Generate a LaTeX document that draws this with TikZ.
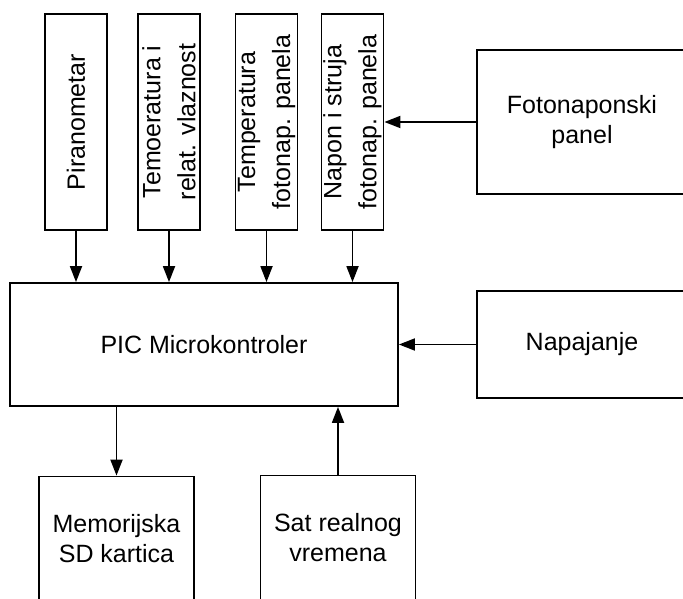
\documentclass[tikz,border=0pt]{standalone}
\usepackage{fontspec}
\setmainfont{Liberation Sans}
\usetikzlibrary{arrows.meta}
\begin{document}
\begin{tikzpicture}[x=.5pt,y=-.5pt,line width=.9pt,font=\fontsize{12.5}{15}\selectfont,
  blok/.style={draw,align=center,inner sep=0pt},
  senzor/.style={blok,rotate=90,minimum width=108pt,minimum height=31pt,font=\fontsize{12.5}{17.5}\selectfont},
  desni/.style={blok,minimum width=105pt},
  donji/.style={blok,minimum width=77.5pt,minimum height=62pt},
  strel/.style={-{Triangle[length=8pt,width=6pt]}}]
  \useasboundingbox (0,0) rectangle (683,598);
  \clip (0,0) rectangle (683,598);
  % senzori
  \node[senzor] (piran) at (76,122) {Piranometar};
  \node[senzor] (tvlag) at (169,122) {Temoeratura i\\relat. vlaznost};
  \node[senzor] (tpanel) at (266.5,122) {Temperatura\\fotonap. panela};
  \node[senzor] (napon) at (352.5,122) {Napon i struja\\fotonap. panela};
  \node[desni,minimum height=72pt] (foto) at (582,122) {Fotonaponski\\panel};
  % kontroler
  \node[blok,minimum width=194pt,minimum height=61.5pt] (pic) at (204,344.5) {PIC Microkontroler};
  \node[desni,minimum height=53.5pt] (napaj) at (582,344.5) {Napajanje};
  \node[donji] (memo) at (116.5,538.5) {Memorijska\\SD kartica};
  \node[donji] (sat) at (338,537.5) {Sat realnog\\vremena};
  \foreach \s in {piran,tvlag,tpanel,napon}
    \draw[strel] (\s) -- (\s |- pic.north);
  \draw[strel] (foto) -- (napon);
  \draw[strel] (napaj) -- (pic);
  \draw[strel] (pic.south -| memo) -- (memo);
  \draw[strel] (sat) -- (sat |- pic.south);
\end{tikzpicture}
\end{document}
